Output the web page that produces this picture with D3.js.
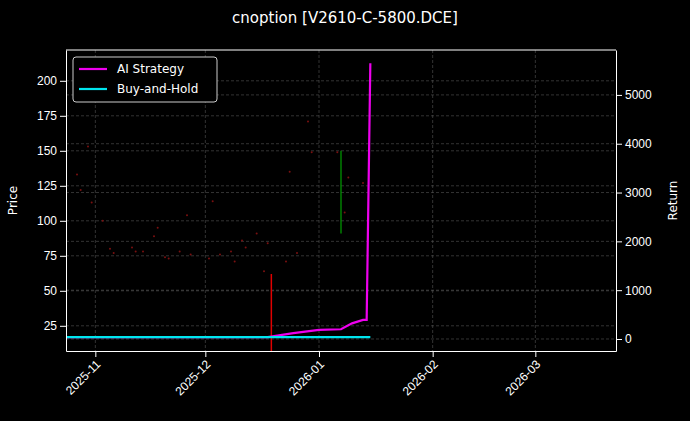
<!DOCTYPE html>
<html><head><meta charset="utf-8">
<script src="https://cdn.jsdelivr.net/npm/d3@7"></script>
<style>body{margin:0;background:#000}svg{font-family:"DejaVu Sans",sans-serif}</style>
</head><body><div id="grafico"></div>
<script>
// Preços (pontos vermelhos)
const priceDates = ['2025-10-27','2025-10-28','2025-10-30','2025-10-31','2025-11-03','2025-11-05','2025-11-06','2025-11-11','2025-11-12','2025-11-14','2025-11-17','2025-11-18','2025-11-20','2025-11-21','2025-11-24','2025-11-26','2025-11-27','2025-12-02','2025-12-03','2025-12-05','2025-12-08','2025-12-09','2025-12-11','2025-12-12','2025-12-15','2025-12-17','2025-12-18','2025-12-23','2025-12-24','2025-12-26','2025-12-29','2025-12-30','2026-01-06','2026-01-08','2026-01-09','2026-01-13'];
const priceValues = [133,122,153,113,100,80,77,81,78,78,89,95,74,73,78,104,76,73,114,76,78,71,86,81,91,64,84,71,135,77,171,149,149,106,131,127];
// Barras verticais
const redBar = { date: '2025-12-19', hi: 62, lo: 0 };
const greenBar = { date: '2026-01-07', hi: 150, lo: 91 };
// Retornos
const stratDates = ['2025-10-24','2025-12-18','2025-12-25','2026-01-01','2026-01-07','2026-01-10','2026-01-13','2026-01-14','2026-01-15'];
const stratValues = [40,40,120,185,200,320,390,390,5650];
const holdDates = ['2025-10-24','2026-01-15'];
const holdValues = [40,40];
const xTicks = ['2025-11-01','2025-12-01','2026-01-01','2026-02-01','2026-03-01'];

const W = 690, H = 421;
const m = { top: 50, right: 74, bottom: 70, left: 66 };
const parse = d3.utcParse('%Y-%m-%d');

const svg = d3.select('#grafico').append('svg').attr('width', W).attr('height', H)
  .style('background', '#000');

const x = d3.scaleUtc().domain([parse('2025-10-24'), parse('2026-03-23')]).range([m.left, W - m.right]);
const yL = d3.scaleLinear().domain([7, 222]).range([H - m.bottom, m.top]);
const yR = d3.scaleLinear().domain([-246, 5920]).range([H - m.bottom, m.top]);

// grade
svg.append('g').selectAll('line').data(xTicks).join('line')
  .attr('x1', d => x(parse(d))).attr('x2', d => x(parse(d)))
  .attr('y1', m.top).attr('y2', H - m.bottom);
svg.append('g').selectAll('line').data(d3.range(25, 201, 25)).join('line')
  .attr('x1', m.left).attr('x2', W - m.right)
  .attr('y1', d => yL(d)).attr('y2', d => yL(d));
svg.append('g').selectAll('line').data(d3.range(0, 5001, 1000)).join('line')
  .attr('x1', m.left).attr('x2', W - m.right)
  .attr('y1', d => yR(d)).attr('y2', d => yR(d));
svg.selectAll('g line').attr('stroke', '#555').attr('stroke-width', 0.6).attr('stroke-dasharray', '3,2');

svg.append('clipPath').attr('id', 'c').append('rect')
  .attr('x', m.left).attr('y', m.top).attr('width', W - m.left - m.right).attr('height', H - m.top - m.bottom);
const plot = svg.append('g').attr('clip-path', 'url(#c)');

// pontos de preço
plot.selectAll('circle').data(priceDates).join('circle')
  .attr('cx', d => x(parse(d))).attr('cy', (d, i) => yL(priceValues[i])).attr('r', 1)
  .attr('fill', '#7a1010');

plot.append('line').attr('x1', x(parse(redBar.date))).attr('x2', x(parse(redBar.date)))
  .attr('y1', yL(redBar.hi)).attr('y2', yL(redBar.lo)).attr('stroke', '#e00000').attr('stroke-width', 1.5);
plot.append('line').attr('x1', x(parse(greenBar.date))).attr('x2', x(parse(greenBar.date)))
  .attr('y1', yL(greenBar.hi)).attr('y2', yL(greenBar.lo)).attr('stroke', '#00a000').attr('stroke-width', 1.2);

const line = d3.line().x(d => x(d[0])).y(d => yR(d[1]));
plot.append('path').datum(stratDates.map((d, i) => [parse(d), stratValues[i]]))
  .attr('fill', 'none').attr('stroke', '#ee00ee').attr('stroke-width', 2.2).attr('d', line);
plot.append('path').datum(holdDates.map((d, i) => [parse(d), holdValues[i]]))
  .attr('fill', 'none').attr('stroke', '#00e5ee').attr('stroke-width', 2.2).attr('d', line);

// eixos
const styleAxis = g => {
  g.selectAll('path,line').attr('stroke', '#fff');
  g.selectAll('text').attr('fill', '#fff').style('font-size', '12px');
};
svg.append('g').attr('transform', `translate(0,${H - m.bottom})`)
  .call(d3.axisBottom(x).tickValues(xTicks.map(parse)).tickFormat(d3.utcFormat('%Y-%m')).tickSizeOuter(0))
  .call(styleAxis)
  .selectAll('text').attr('text-anchor', 'end').attr('transform', 'rotate(-45)').attr('dx', '-0.5em').attr('dy', '0.4em');
svg.append('g').attr('transform', `translate(${m.left},0)`)
  .call(d3.axisLeft(yL).tickValues(d3.range(25, 201, 25)).tickSizeOuter(0)).call(styleAxis);
svg.append('g').attr('transform', `translate(${W - m.right},0)`)
  .call(d3.axisRight(yR).tickValues(d3.range(0, 5001, 1000)).tickFormat(d3.format('d')).tickSizeOuter(0)).call(styleAxis);
svg.append('line').attr('x1', m.left).attr('x2', W - m.right).attr('y1', m.top).attr('y2', m.top).attr('stroke', '#fff');

const midY = (m.top + H - m.bottom) / 2;
svg.append('text').attr('x', 17).attr('y', midY).attr('transform', `rotate(-90,17,${midY})`)
  .attr('text-anchor', 'middle').attr('fill', '#fff').style('font-size', '12px').text('Price');
svg.append('text').attr('x', 677).attr('y', midY).attr('transform', `rotate(-90,677,${midY})`)
  .attr('text-anchor', 'middle').attr('fill', '#fff').style('font-size', '12px').text('Return');
svg.append('text').attr('x', W / 2).attr('y', 23).attr('text-anchor', 'middle').attr('fill', '#fff')
  .style('font-size', '15px').text('cnoption [V2610-C-5800.DCE]');

// legenda
const lg = svg.append('g').attr('transform', 'translate(73,57)');
lg.append('rect').attr('width', 144).attr('height', 45).attr('rx', 3).attr('fill', '#000').attr('stroke', '#ccc');
[['AI Strategy', '#ee00ee'], ['Buy-and-Hold', '#00e5ee']].forEach((d, i) => {
  lg.append('line').attr('x1', 6).attr('x2', 34).attr('y1', 12 + i * 20).attr('y2', 12 + i * 20).attr('stroke', d[1]).attr('stroke-width', 2.2);
  lg.append('text').attr('x', 44).attr('y', 16 + i * 20).attr('fill', '#fff').style('font-size', '12px').text(d[0]);
});
</script></body></html>
